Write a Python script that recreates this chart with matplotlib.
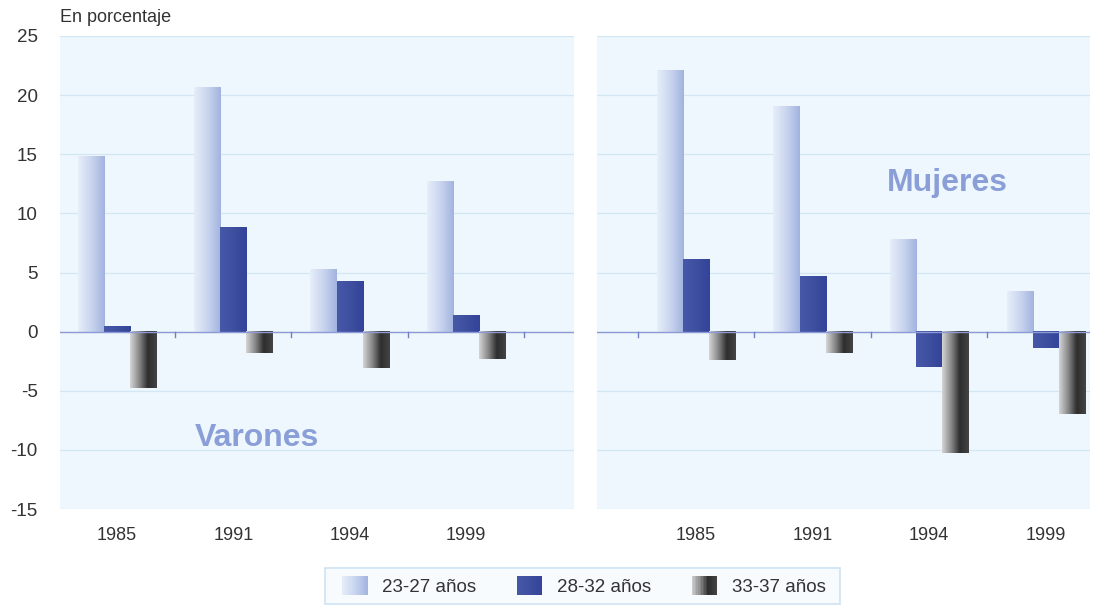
import numpy as np
import matplotlib
matplotlib.use('Agg')
from matplotlib import pyplot as plt
from matplotlib.colors import LinearSegmentedColormap
from matplotlib.patches import Rectangle
from matplotlib.legend_handler import HandlerBase

plt.rcParams['font.family'] = ['Liberation Sans', 'DejaVu Sans']

years = ['1985', '1991', '1994', '1999']
series = ['23-27 años', '28-32 años', '33-37 años']

# variación en porcentaje por grupo de edad
varones = {
    '23-27 años': [14.8, 20.7, 5.3, 12.7],
    '28-32 años': [0.5, 8.8, 4.3, 1.4],
    '33-37 años': [-4.8, -1.8, -3.1, -2.3],
}
mujeres = {
    '23-27 años': [22.1, 19.1, 7.8, 3.4],
    '28-32 años': [6.1, 4.7, -3.0, -1.4],
    '33-37 años': [-2.4, -1.8, -10.3, -7.0],
}

# degradados horizontales de cada serie
cmaps = {
    '23-27 años': LinearSegmentedColormap.from_list('c1', ['#e6eef9', '#c9d5ef', '#a3b3df']),
    '28-32 años': LinearSegmentedColormap.from_list('c2', ['#4858a8', '#3e4f9f', '#32439a']),
    '33-37 años': LinearSegmentedColormap.from_list('c3', ['#d4d4d4', '#8a8a8a', '#2e2e2e', '#444444']),
}
grad = np.linspace(0, 1, 64).reshape(1, -1)

bg = '#eef7fd'
grid_c = '#d3e6f4'
txt_c = '#333333'
label_c = '#8a9fd8'
bw = 0.224


def gradient_bar(ax, x, v, cmap):
    y0, y1 = (0, v) if v >= 0 else (v, 0)
    ax.imshow(grad, cmap=cmap, aspect='auto', extent=(x - bw / 2, x + bw / 2, y0, y1),
              interpolation='bilinear', zorder=3)


class GradientHandler(HandlerBase):
    # muestra de la leyenda hecha con franjas verticales
    def create_artists(self, legend, orig_handle, xdescent, ydescent, width, height,
                       fontsize, trans):
        cmap = orig_handle.cmap
        n = 16
        arts = []
        for k in range(n):
            r = Rectangle((-xdescent + width * k / n, -ydescent), width / n * 1.05, height,
                          facecolor=cmap((k + 0.5) / n), edgecolor='none', transform=trans)
            arts.append(r)
        return arts


def panel(ax, data, xlim, ticks):
    ax.set_facecolor(bg)
    for y in range(-15, 30, 5):
        ax.axhline(y, color=grid_c, lw=0.9, zorder=1)
    for i, s in enumerate(series):
        for j, v in enumerate(data[s]):
            gradient_bar(ax, j + (i - 1) * bw, v, cmaps[s])
    ax.axhline(0, color='#8c9ad6', lw=1.0, zorder=4)
    for t in ticks:
        ax.plot([t, t], [0, -0.45], color='#7080c0', lw=1.0, zorder=4)
    ax.set_xlim(*xlim)
    ax.set_ylim(-15, 25)
    ax.set_xticks(range(len(years)))
    ax.set_xticklabels(years, fontsize=13, color=txt_c)
    ax.tick_params(axis='x', length=0, pad=13)
    for sp in ax.spines.values():
        sp.set_visible(False)


fig = plt.figure(figsize=(10.95, 6.06), dpi=100)

ax1 = fig.add_axes([60 / 1095, 97 / 606, 514 / 1095, 473 / 606])
panel(ax1, varones, (-0.49, 3.93), [0.5, 1.5, 2.5, 3.5])
ax1.set_yticks(range(-15, 30, 5))
ax1.set_yticklabels([str(t) for t in range(-15, 30, 5)], fontsize=13.5, color=txt_c)
ax1.tick_params(axis='y', length=0, pad=16)
ax1.text(1.2, -9.0, 'Varones', fontsize=23, fontweight='bold', color=label_c,
         ha='center', va='center', zorder=5)

ax2 = fig.add_axes([597 / 1095, 97 / 606, 493 / 1095, 473 / 606])
panel(ax2, mujeres, (-0.85, 3.38), [-0.5, 0.5, 1.5, 2.5])
ax2.set_yticks([])
ax2.text(2.16, 12.6, 'Mujeres', fontsize=23, fontweight='bold', color=label_c,
         ha='center', va='center', zorder=5)

fig.text(60 / 1095, 1 - 18 / 606, 'En porcentaje', fontsize=13, color=txt_c,
         ha='left', va='center')

# marco de la leyenda
fig.patches.append(Rectangle((325 / 1095, 1 - 604 / 606), 515 / 1095, 36 / 606,
                             transform=fig.transFigure, facecolor='#f7fbfe',
                             edgecolor='#cfe2f2', lw=1.2, zorder=0))

handles = [Rectangle((0, 0), 1, 1) for s in series]
for h, s in zip(handles, series):
    h.cmap = cmaps[s]
leg = fig.legend(handles, series, loc='center', bbox_to_anchor=(584 / 1095, 1 - 586 / 606),
                 ncol=3, frameon=False, fontsize=13.5, handlelength=1.35, handleheight=1.2,
                 columnspacing=2.15, handletextpad=0.8, borderpad=0.3,
                 labelcolor=txt_c, handler_map={Rectangle: GradientHandler()})

plt.savefig('out.png', dpi=100)
